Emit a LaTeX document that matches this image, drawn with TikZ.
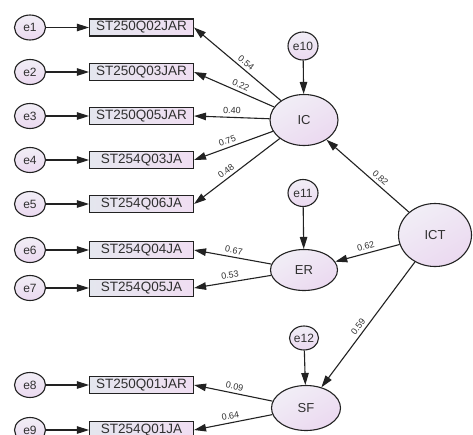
\documentclass[tikz,border=0pt]{standalone}
\usepackage{fontspec}
\setmainfont{Liberation Sans}
\usetikzlibrary{arrows.meta,shapes.geometric}

\definecolor{inkline}{HTML}{222222}
\definecolor{inktext}{HTML}{303030}
\definecolor{lavlight}{HTML}{F1EEF6}
\definecolor{lavpink}{HTML}{EBD9F0}
\definecolor{boxleft}{HTML}{E4E6EE}
\definecolor{boxright}{HTML}{F0DEF2}

\tikzset{
  errnode/.style={ellipse, draw=inkline, line width=1.1pt, minimum width=31pt,
    minimum height=25pt, inner sep=0pt, top color=lavlight, bottom color=lavpink,
    text=inktext, font=\fontsize{12}{12}\selectfont},
  latent/.style={ellipse, draw=inkline, line width=1.1pt, inner sep=0pt,
    top color=lavlight, bottom color=lavpink, shading angle=30,
    text=inktext, font=\fontsize{13}{13}\selectfont},
  itembox/.style={rectangle, draw=inkline, line width=1.1pt, minimum width=104pt,
    minimum height=17pt, inner sep=0pt, left color=boxleft, right color=boxright,
    text=inktext, font=\fontsize{13.5}{13.5}\selectfont},
  conn/.style={draw=inkline, line width=1.1pt,
    -{Triangle[length=12pt,width=7.5pt]}},
  coef/.style={sloped, above, inner sep=3pt, text=inktext,
    font=\fontsize{9}{9}\selectfont}
}

\begin{document}
\begin{tikzpicture}[x=1pt,y=-1pt]
  \useasboundingbox (0,0) rectangle (473,434);
  \clip (0,0) rectangle (473,434);
  \fill[white] (0,0) rectangle (473,434);

  % observed items and their error terms
  \foreach \i/\lab/\yy in {1/ST250Q02JAR/27.5, 2/ST250Q03JAR/72, 3/ST250Q05JAR/116,
      4/ST254Q03JA/160, 5/ST254Q06JA/204, 6/ST254Q04JA/250, 7/ST254Q05JA/288,
      8/ST250Q01JAR/385, 9/ST254Q01JA/430} {
    \node[errnode] (e\i) at (30,\yy) {e\i};
    \node[itembox] (b\i) at (141.5,\yy) {\lab};
    \draw[conn] (e\i) -- (b\i);
  }

  % latent factors
  \node[latent, minimum width=68pt, minimum height=51pt] (IC) at (304,120) {IC};
  \node[latent, minimum width=67pt, minimum height=41pt] (ER) at (304,270) {ER};
  \node[latent, minimum width=69pt, minimum height=45pt] (SF) at (306,408) {SF};
  \node[latent, minimum width=73pt, minimum height=63pt] (ICT) at (435,235) {ICT};

  % disturbances
  \node[errnode, minimum width=30pt, minimum height=28pt] (e10) at (303,46) {e10};
  \node[errnode, minimum width=30pt, minimum height=27pt] (e11) at (303,193) {e11};
  \node[errnode, minimum width=29pt, minimum height=24pt] (e12) at (304,338) {e12};
  \draw[conn] (e10) -- (IC);
  \draw[conn] (e11) -- (ER);
  \draw[conn] (e12) -- (SF);

  % loadings
  \draw[conn] (IC) -- (b1.east) node[coef, pos=0.45] {0.54};
  \draw[conn] (IC) -- (b2.east) node[coef, pos=0.45] {0.22};
  \draw[conn] (IC) -- (b3.east) node[coef, pos=0.5] {0.40};
  \draw[conn] (IC) -- (b4.east) node[coef, pos=0.55] {0.75};
  \draw[conn] (IC) -- (b5.east) node[coef, pos=0.58] {0.48};
  \draw[conn] (ER) -- (b6.east) node[coef, pos=0.5] {0.67};
  \draw[conn] (ER) -- (b7.east) node[coef, pos=0.52] {0.53};
  \draw[conn] (SF) -- (b8.east) node[coef, pos=0.5] {0.09};
  \draw[conn] (SF) -- (b9.east) node[coef, pos=0.52] {0.64};

  % structural paths
  \draw[conn] (ICT) -- (IC) node[coef, pos=0.4] {0.82};
  \draw[conn] (ICT) -- (ER) node[coef, pos=0.5] {0.62};
  \draw[conn] (ICT) -- (SF) node[coef, pos=0.55] {0.59};
\end{tikzpicture}
\end{document}
